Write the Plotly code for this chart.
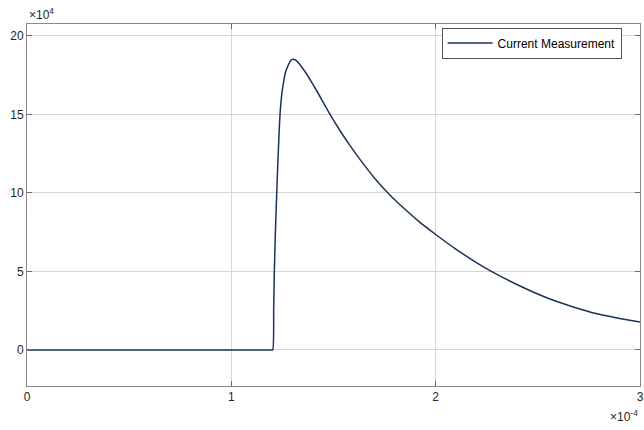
import plotly.graph_objects as go

# time in units of 1e-4 s, current in units of 1e4
t_scaled = [0, 1.1950, 1.2025, 1.2074, 1.2106, 1.2155, 1.2221, 1.2302, 1.2384, 1.2465, 1.2547,
            1.2661, 1.2792, 1.2906, 1.3036, 1.3167, 1.3363, 1.3689, 1.3950, 1.4178, 1.4831,
            1.5300, 1.5728, 1.6140, 1.7000, 1.7770, 1.8500, 1.9200, 2.0050, 2.0950,
            2.1800, 2.2660, 2.4000, 2.5440, 2.6700, 2.7890, 2.9000, 3.0000]
i_scaled = [0, 0, 0, 2.76, 5.03, 7.43, 9.98, 12.74, 15.03, 16.24, 16.99,
            17.73, 18.15, 18.43, 18.51, 18.43, 18.15, 17.55, 17.0, 16.5, 15.0,
            14.0, 13.16, 12.4, 10.95, 9.85, 8.95, 8.15, 7.3, 6.45,
            5.72, 5.05, 4.15, 3.32, 2.75, 2.3, 2.0, 1.78]

x_ticks = [0, 1, 2, 3]
x_tick_labels = ["0", "1", "2", "3"]
y_ticks = [0, 5, 10, 15, 20]
y_tick_labels = ["0", "5", "10", "15", "20"]
series_name = "Current Measurement"

FONT = "Liberation Sans, Arial, sans-serif"

fig = go.Figure()
fig.add_trace(go.Scatter(x=t_scaled, y=i_scaled, mode="lines", name=series_name,
                         line=dict(color="#1c3358", width=1.5, shape="spline", smoothing=0.6)))

axis_common = dict(showgrid=True, gridcolor="#d6d6d6", gridwidth=1,
                   zeroline=False, showline=True, linecolor="#8a8a8a", linewidth=1,
                   mirror="ticks", ticks="inside", ticklen=5, tickcolor="#6a6a6a",
                   automargin=False, ticklabeloverflow="allow",
                   tickfont=dict(family=FONT, size=12, color="#262626"))

fig.update_layout(
    template="none",
    width=644, height=430,
    margin=dict(l=27, r=4, t=24, b=44, autoexpand=False),
    paper_bgcolor="white", plot_bgcolor="white",
    showlegend=True,
    legend=dict(x=0.97, y=0.99, xanchor="right", yanchor="top",
                bgcolor="white", bordercolor="#555555", borderwidth=1,
                itemwidth=45,
                font=dict(family=FONT, size=12, color="#000000")),
    xaxis=dict(range=[0, 3], tickvals=x_ticks, ticktext=x_tick_labels, **axis_common),
    yaxis=dict(range=[-2.3, 20.75], tickvals=y_ticks, ticktext=y_tick_labels, **axis_common),
    annotations=[
        dict(text="×10<sup>4</sup>", xref="paper", yref="paper", x=0, y=1,
             xanchor="left", yanchor="bottom", showarrow=False, yshift=0,
             font=dict(family=FONT, size=12, color="#262626")),
        dict(text="×10<sup>-4</sup>", xref="paper", yref="paper", x=1, y=0,
             xanchor="right", yanchor="top", showarrow=False, yshift=-20,
             font=dict(family=FONT, size=12, color="#262626")),
    ],
)

fig.write_html("out.html", config={"displayModeBar": False},
               post_script="document.body.style.margin='0';document.body.style.overflow='hidden';")
